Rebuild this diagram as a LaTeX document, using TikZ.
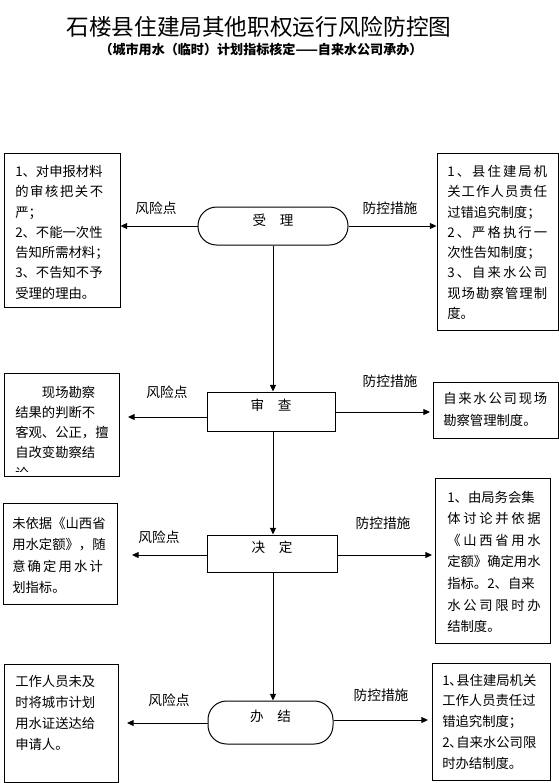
\documentclass[tikz,border=0pt]{standalone}
\usepackage{fontspec}
\setmainfont{Noto Sans CJK SC}
\usetikzlibrary{arrows.meta,fit}
\def\spaux#1#2{#1\ifx#2\relax\else\hfill\expandafter\spaux\expandafter#2\fi}
\newcommand\jl[2][75pt]{\hbox to #1{\spaux#2\relax}}
\tikzset{
  box/.style={draw, line width=0.75pt, inner sep=0pt},
  stad/.style={draw, line width=0.75pt, inner sep=0pt, rounded corners=14pt, font=\fontsize{10.2pt}{12pt}\selectfont},
  txt/.style={anchor=north west, inner sep=0pt, align=left, font=\fontsize{10pt}{#1}\selectfont},
  txt/.default=15.2pt,
  lab/.style={inner sep=0pt, font=\fontsize{10.3pt}{12pt}\selectfont},
  arr/.style={line width=0.75pt, -{Triangle[length=5pt,width=4.5pt]}},
  con/.style={line width=0.75pt}
}
\begin{document}
\begin{tikzpicture}[x=0.75pt,y=-0.75pt]
\useasboundingbox (0,0) rectangle (559,783);
% titles
\node[inner sep=0pt, font=\fontsize{17pt}{20pt}\selectfont] (title) at (259,27) {石楼县住建局其他职权运行风险防控图};
\node[inner sep=0pt, font=\bfseries\fontsize{9.8pt}{11pt}\selectfont] (sub) at (261,50) {（城市用水（临时）计划指标核定——自来水公司承办）};

% process nodes
\node[stad, fit={(198,207)(348,245)}] (n1) {受　理};
\node[box, fit={(207,392)(335,431)}, font=\fontsize{10.2pt}{12pt}\selectfont] (n2) {审　查};
\node[box, fit={(207,535)(337,572)}, font=\fontsize{10.2pt}{12pt}\selectfont] (n3) {决　定};
\node[stad, fit={(208,701)(333,744)}] (n4) {办　结};

% left boxes
\node[box, fit={(4,153)(120,307)}] (l1) {};
\node[box, fit={(4,373)(119,476)}] (l2) {};
\node[box, fit={(3,503)(117,604)}] (l3) {};
\node[box, fit={(4,664)(118,782)}] (l4) {};
% right boxes
\node[box, fit={(437,153)(558,330)}] (r1) {};
\node[box, fit={(433,382)(558,438)}] (r2) {};
\node[box, fit={(435,478)(550,643)}] (r3) {};
\node[box, fit={(432,663)(550,780)}] (r4) {};

% texts
\node[txt] (l1t) at (15,165) {1、对申报材料\\\jl[66pt]{的审核把关不}\\严；\\2、不能一次性\\告知所需材料；\\3、不告知不予\\受理的理由。};
\begin{scope}
\clip (5,374) rectangle (118,471);
\node[txt] (l2t) at (15,385.5) {　　现场勘察\\结果的判断不\\客观、公正，擅\\自改变勘察结\\论。};
\end{scope}
\node[txt=16.2pt] (l3t) at (12,516.5) {未依据《山西省\\用水定额》，随\\\jl[68pt]{意确定用水计}\\划指标。};
\node[txt=15.7pt] (l4t) at (15,675.5) {工作人员未及\\时将城市计划\\用水证送达给\\申请人。};

\node[txt] (r1t) at (447,165) {\jl{1、县住建局机}\\\jl{关工作人员责任}\\过错追究制度；\\\jl{2、严格执行一}\\次性告知制度；\\\jl{3、自来水公司}\\\jl{现场勘察管理制}\\度。};
\node[txt=16.5pt] (r2t) at (443,391.5) {\jl[78pt]{自来水公司现场}\\勘察管理制度。};
\node[txt=16.2pt] (r3t) at (447,490.5) {1、由局务会集\\\jl[70pt]{体讨论并依据}\\\jl[70pt]{《山西省用水}\\定额》确定用水\\指标。2、自来\\\jl[70pt]{水公司限时办}\\结制度。};
\node[txt=15.6pt] (r4t) at (442,673.5) {1､县住建局机关\\工作人员责任过\\错追究制度；\\2､自来水公司限\\时办结制度。};

% vertical connectors
\draw[arr] (n1.south) -- (n1.south |- n2.north);
\draw[arr] (n1.south |- n2.south) -- (n1.south |- n3.north);
\draw[arr] (n1.south |- n3.south) -- (n1.south |- n4.north);

% free ends
\coordinate (e2l) at (128,417);
\coordinate (e3l) at (132,555);
\coordinate (e4l) at (127,723);
\coordinate (e2r) at (430,412);
\coordinate (e3r) at (432,555);
\coordinate (e4r) at (428,720);

% horizontal arrows
\draw[arr] (n1.west) -- (n1.west -| l1.east);
\draw[arr] (n1.east) -- (n1.east -| r1.west);
\draw[arr] (n2.west |- e2l) -- (e2l);
\draw[arr] (n2.east |- e2r) -- (e2r);
\draw[arr] (n3.west |- e3l) -- (e3l);
\draw[arr] (n3.east |- e3r) -- (e3r);
\draw[arr] (n4.west |- e4l) -- (e4l);
\draw[arr] (n4.east |- e4r) -- (e4r);

% labels
\node[lab] (k1) at (156,208) {风险点};
\node[lab] (k2) at (167,392) {风险点};
\node[lab] (k3) at (159,537) {风险点};
\node[lab] (k4) at (169,700) {风险点};
\node[lab] (f1) at (390,208) {防控措施};
\node[lab] (f2) at (390,381) {防控措施};
\node[lab] (f3) at (383,523) {防控措施};
\node[lab] (f4) at (381,695) {防控措施};
\end{tikzpicture}
\end{document}
